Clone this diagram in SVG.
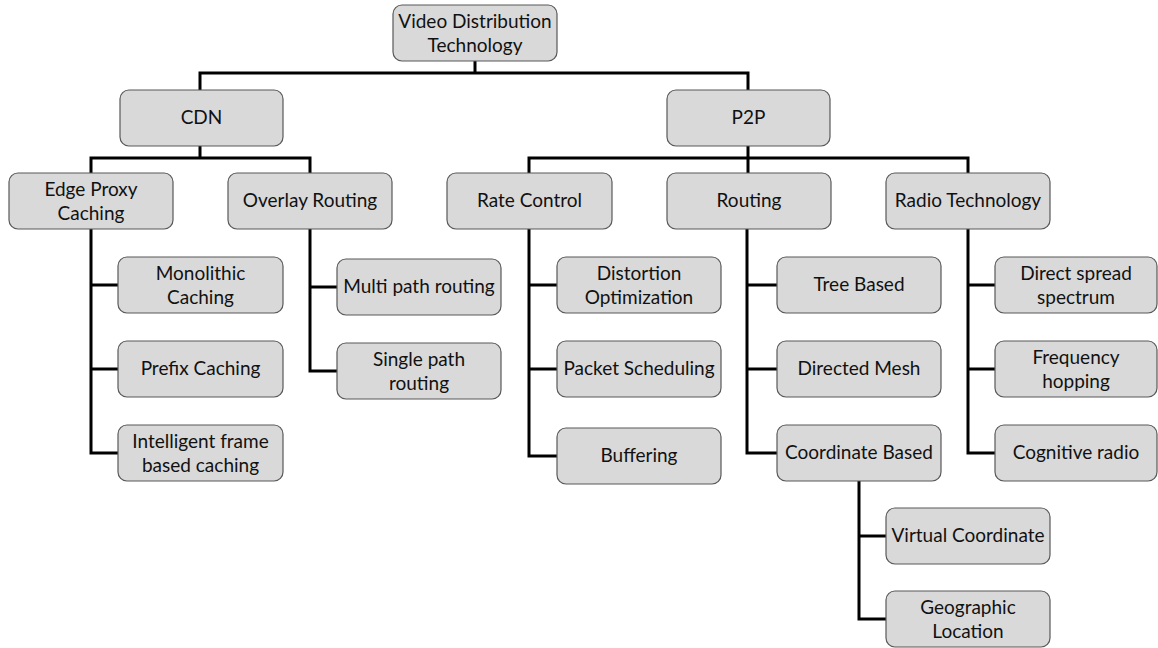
<svg xmlns="http://www.w3.org/2000/svg" width="1158" height="648" viewBox="0 0 1158 648">
  <style>
    .box { fill: #d9d9d9; stroke: #595959; stroke-width: 1.2; }
    .lbl { font-family: Lato, "Open Sans", "Liberation Sans", sans-serif; font-size: 19px; fill: #111; text-anchor: middle; }
    .wire { fill: none; stroke: #000; stroke-width: 3; stroke-linecap: square; }
  </style>
  <rect width="1158" height="648" fill="#fff"/>

  <!-- connectors -->
  <g id="connectors" class="wire">
    <path d="M475 61 V73 M200 73 H748 M200 73 V90 M748 73 V90"/>
    <path d="M200 146 V158 M91 158 H310 M91 158 V173 M310 158 V173"/>
    <path d="M748 146 V158 M529 158 H968 M529 158 V173 M748 158 V173 M968 158 V173"/>
    <path d="M91 229 V453 M91 285 H118 M91 369 H118 M91 453 H118"/>
    <path d="M310 229 V371 M310 287 H337 M310 371 H337"/>
    <path d="M529 229 V456 M529 285 H557 M529 369 H557 M529 456 H557"/>
    <path d="M747 229 V453 M747 285 H777 M747 369 H777 M747 453 H777"/>
    <path d="M968 229 V453 M968 285 H995 M968 369 H995 M968 453 H995"/>
    <path d="M859 481 V619 M859 536 H886 M859 619 H886"/>
  </g>

  <g id="root"><rect class="box" x="393" y="5" width="164" height="56" rx="9"/>
    <text class="lbl" x="475" y="28">Video Distribution</text><text class="lbl" x="475" y="52">Technology</text></g>

  <g id="cdn"><rect class="box" x="120" y="90" width="163" height="56" rx="9"/>
    <text class="lbl" x="201.5" y="124">CDN</text></g>
  <g id="p2p"><rect class="box" x="667" y="90" width="163" height="56" rx="9"/>
    <text class="lbl" x="748.5" y="124">P2P</text></g>

  <g id="edge-proxy"><rect class="box" x="9" y="173" width="164" height="56" rx="9"/>
    <text class="lbl" x="91" y="196">Edge Proxy</text><text class="lbl" x="91" y="220">Caching</text></g>
  <g id="overlay-routing"><rect class="box" x="228" y="173" width="164" height="56" rx="9"/>
    <text class="lbl" x="310" y="207">Overlay Routing</text></g>
  <g id="rate-control"><rect class="box" x="447" y="173" width="165" height="56" rx="9"/>
    <text class="lbl" x="529.5" y="207">Rate Control</text></g>
  <g id="routing"><rect class="box" x="667" y="173" width="164" height="56" rx="9"/>
    <text class="lbl" x="749" y="207">Routing</text></g>
  <g id="radio-technology"><rect class="box" x="886" y="173" width="164" height="56" rx="9"/>
    <text class="lbl" x="968" y="207">Radio Technology</text></g>

  <g id="monolithic"><rect class="box" x="118" y="257" width="165" height="56" rx="9"/>
    <text class="lbl" x="200.5" y="280">Monolithic</text><text class="lbl" x="200.5" y="304">Caching</text></g>
  <g id="prefix"><rect class="box" x="118" y="341" width="165" height="56" rx="9"/>
    <text class="lbl" x="200.5" y="375">Prefix Caching</text></g>
  <g id="intelligent"><rect class="box" x="118" y="425" width="165" height="56" rx="9"/>
    <text class="lbl" x="200.5" y="448">Intelligent frame</text><text class="lbl" x="200.5" y="472">based caching</text></g>

  <g id="multi-path"><rect class="box" x="337" y="259" width="164" height="56" rx="9"/>
    <text class="lbl" x="419" y="293">Multi path routing</text></g>
  <g id="single-path"><rect class="box" x="337" y="343" width="164" height="56" rx="9"/>
    <text class="lbl" x="419" y="366">Single path</text><text class="lbl" x="419" y="390">routing</text></g>

  <g id="distortion"><rect class="box" x="557" y="257" width="164" height="56" rx="9"/>
    <text class="lbl" x="639" y="280">Distortion</text><text class="lbl" x="639" y="304">Optimization</text></g>
  <g id="packet"><rect class="box" x="557" y="341" width="164" height="56" rx="9"/>
    <text class="lbl" x="639" y="375">Packet Scheduling</text></g>
  <g id="buffering"><rect class="box" x="557" y="428" width="164" height="56" rx="9"/>
    <text class="lbl" x="639" y="462">Buffering</text></g>

  <g id="tree"><rect class="box" x="777" y="257" width="164" height="56" rx="9"/>
    <text class="lbl" x="859" y="291">Tree Based</text></g>
  <g id="directed-mesh"><rect class="box" x="777" y="341" width="164" height="56" rx="9"/>
    <text class="lbl" x="859" y="375">Directed Mesh</text></g>
  <g id="coordinate"><rect class="box" x="777" y="425" width="164" height="56" rx="9"/>
    <text class="lbl" x="859" y="459">Coordinate Based</text></g>

  <g id="direct-spread"><rect class="box" x="995" y="257" width="162" height="56" rx="9"/>
    <text class="lbl" x="1076" y="280">Direct spread</text><text class="lbl" x="1076" y="304">spectrum</text></g>
  <g id="frequency"><rect class="box" x="995" y="341" width="162" height="56" rx="9"/>
    <text class="lbl" x="1076" y="364">Frequency</text><text class="lbl" x="1076" y="388">hopping</text></g>
  <g id="cognitive"><rect class="box" x="995" y="425" width="162" height="56" rx="9"/>
    <text class="lbl" x="1076" y="459">Cognitive radio</text></g>

  <g id="virtual"><rect class="box" x="886" y="508" width="164" height="56" rx="9"/>
    <text class="lbl" x="968" y="542">Virtual Coordinate</text></g>
  <g id="geographic"><rect class="box" x="886" y="591" width="164" height="56" rx="9"/>
    <text class="lbl" x="968" y="614">Geographic</text><text class="lbl" x="968" y="638">Location</text></g>
</svg>
